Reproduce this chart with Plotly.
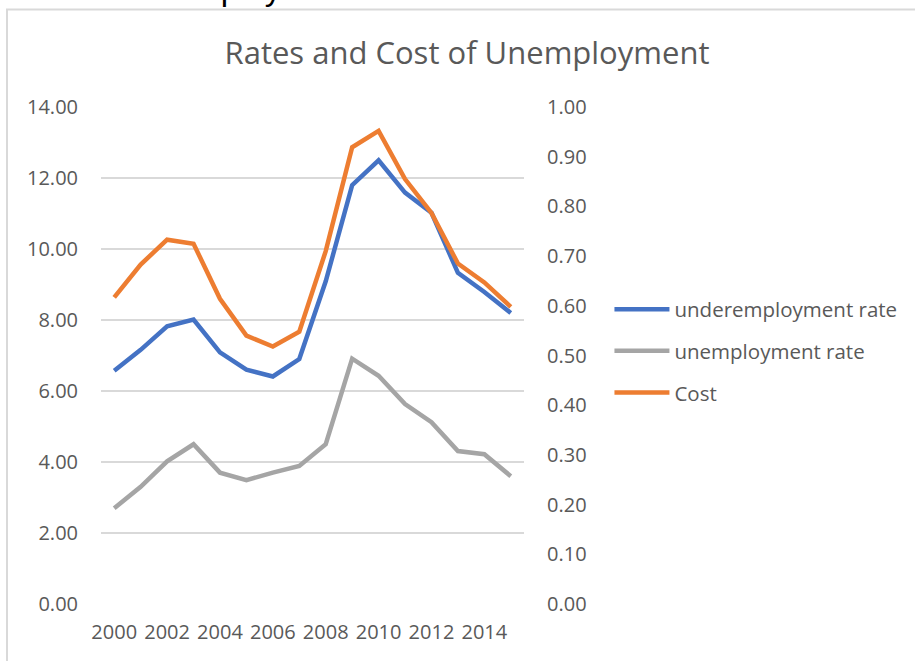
import plotly.graph_objects as go

years = list(range(2000, 2016))
underemployment = [6.57, 7.16, 7.82, 8.01, 7.09, 6.60, 6.41, 6.90, 9.09, 11.80, 12.50, 11.59, 11.02, 9.33, 8.79, 8.20]
unemployment = [2.70, 3.30, 4.02, 4.50, 3.70, 3.49, 3.70, 3.89, 4.50, 6.91, 6.43, 5.63, 5.12, 4.31, 4.22, 3.60]
cost = [0.617, 0.683, 0.733, 0.725, 0.614, 0.540, 0.518, 0.548, 0.710, 0.919, 0.952, 0.855, 0.787, 0.685, 0.647, 0.598]
x_ticks = list(range(2000, 2015, 2))
left_ticks = [0, 2, 4, 6, 8, 10, 12, 14]
right_ticks = [i / 10 for i in range(11)]

FONT = "Open Sans"
TXT = "#595959"

fig = go.Figure()
fig.add_trace(go.Scatter(x=years, y=underemployment, name="underemployment rate",
                         mode="lines", line=dict(color="#4472C4", width=4.5),
                         legendgroup="a"))
fig.add_trace(go.Scatter(x=years, y=unemployment, name="unemployment rate",
                         mode="lines", line=dict(color="#A5A5A5", width=4.5),
                         legendgroup="b"))
fig.add_trace(go.Scatter(x=years, y=cost, name="Cost", yaxis="y2",
                         mode="lines", line=dict(color="#ED7D31", width=4.5),
                         legendgroup="c"))

fig.update_layout(
    width=915, height=661,
    margin=dict(l=101, r=391, t=107, b=57, autoexpand=False),
    paper_bgcolor="white", plot_bgcolor="white",
    font=dict(family=FONT, color=TXT, size=20),
    showlegend=True,
    legend=dict(x=1.202, y=0.633, xanchor="left", yanchor="top",
                font=dict(size=20.5, color=TXT, family=FONT),
                traceorder="grouped", tracegroupgap=12, itemwidth=55,
                bgcolor="rgba(0,0,0,0)"),
    xaxis=dict(range=[1999.5, 2015.5], tickmode="array", tickvals=x_ticks,
               ticktext=[str(v) for v in x_ticks], showgrid=False, zeroline=False,
               showline=False, ticks="", ticklabelstandoff=14,
               tickfont=dict(size=20, color=TXT)),
    yaxis=dict(range=[0, 14], tickmode="array", tickvals=left_ticks, tickformat=".2f",
               showgrid=True, gridcolor="#D9D9D9", gridwidth=1.5, zeroline=False,
               showline=False, ticks="", ticklabelstandoff=22,
               tickfont=dict(size=20, color=TXT)),
    yaxis2=dict(range=[0, 1], overlaying="y", side="right", tickmode="array",
                tickvals=right_ticks, tickformat=".2f", showgrid=False,
                zeroline=False, showline=False, ticks="", ticklabelstandoff=22,
                tickfont=dict(size=20, color=TXT)),
    title=dict(text="Rates and Cost of Unemployment", x=467 / 915, xanchor="center",
               y=1 - 53 / 661, yanchor="middle",
               font=dict(size=31, color=TXT, family=FONT)),
)

# chart frame
fig.add_shape(type="rect", xref="paper", yref="paper",
              x0=(7 - 101) / 423, x1=3.0, y0=-0.5, y1=(604 - 9.5) / 497,
              line=dict(color="#D9D9D9", width=2), fillcolor="rgba(0,0,0,0)", layer="below")

# document heading above the chart, cut by the top edge as in the reference
fig.add_annotation(text="Costs of unemployment", xref="paper", yref="paper",
                   x=(6 - 101) / 423, xanchor="left",
                   y=(604 - 9) / 497, yanchor="bottom", showarrow=False,
                   font=dict(size=33, color="#000000", family="Liberation Sans"))

fig.write_html("out.html")
